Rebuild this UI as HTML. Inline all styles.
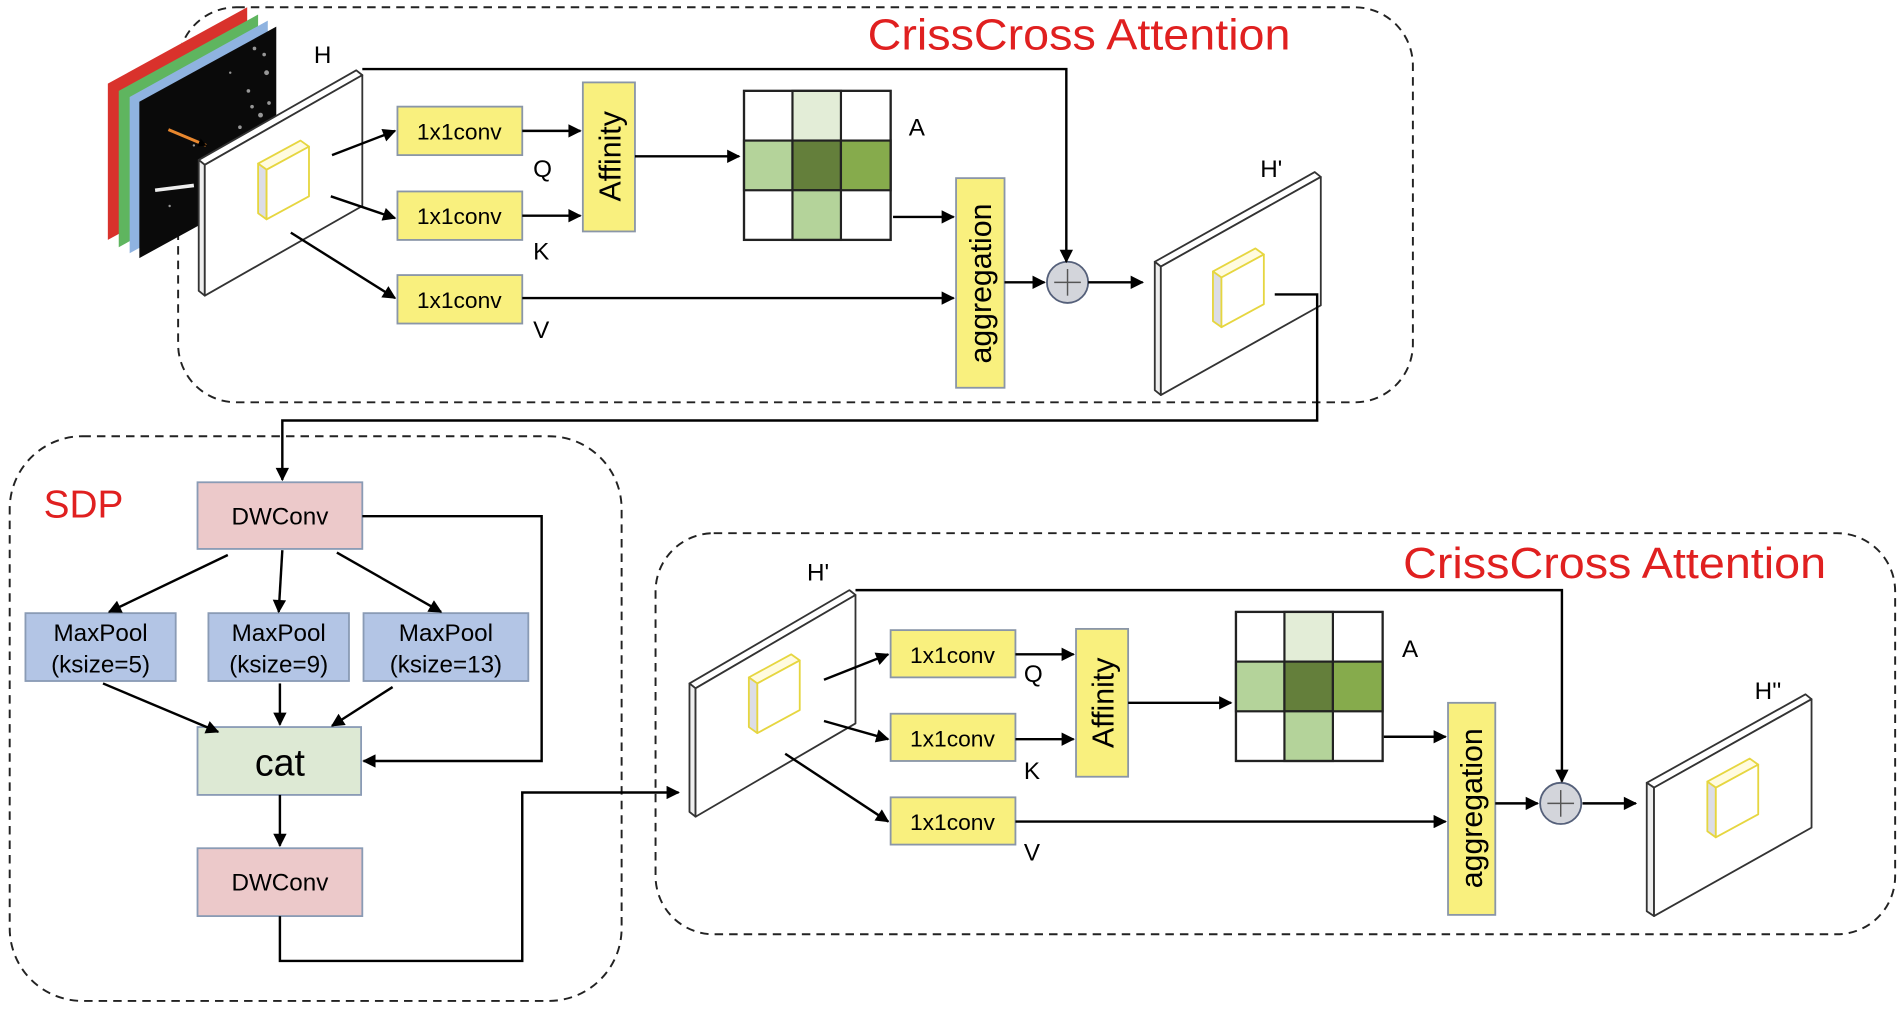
<!DOCTYPE html>
<html><head><meta charset="utf-8"><style>
html,body{margin:0;padding:0;background:#fff;}
svg{display:block;}
text{font-family:"Liberation Sans",Arial,sans-serif;}
</style></head><body>
<svg width="1900" height="1010" viewBox="0 0 1568 833.5" preserveAspectRatio="none" xmlns="http://www.w3.org/2000/svg">
<defs>
<marker id="ar" viewBox="0 0 10 10" refX="9" refY="5" markerWidth="7" markerHeight="7" markerUnits="userSpaceOnUse" orient="auto"><path d="M0,0 L10,5 L0,10 z" fill="#000"/></marker>
<marker id="ar2" viewBox="0 0 10 10" refX="9" refY="5" markerWidth="13" markerHeight="11" markerUnits="userSpaceOnUse" orient="auto"><path d="M0,0 L10,5 L0,10 z" fill="#000"/></marker>
</defs>
<g fill="none" stroke="#222" stroke-width="1.6" stroke-dasharray="7,5">
<rect x="147" y="6" width="1019" height="326" rx="48"/>
<rect x="8" y="360" width="505" height="466" rx="60"/>
<rect x="541" y="440" width="1023" height="331" rx="48"/>
</g>
<text x="716" y="41" font-size="36" fill="#e02020" textLength="349" lengthAdjust="spacingAndGlyphs">CrissCross Attention</text>
<text x="1158" y="477" font-size="36" fill="#e02020" textLength="349" lengthAdjust="spacingAndGlyphs">CrissCross Attention</text>
<text x="36" y="427" font-size="32" fill="#e02020">SDP</text>

<!-- image stack -->
<polygon points="89,69 204,6 204,135 89,198" fill="#d9322c"/>
<polygon points="98,75 213,12 213,141 98,204" fill="#5fb55f"/>
<polygon points="107,80 221,17 221,146 107,209" fill="#8fb3e0"/>
<polygon points="115,84 228,22 228,151 115,213" fill="#0a0a0a"/>
<g fill="#bbb" opacity="0.8">
<circle cx="210" cy="40" r="1.5"/><circle cx="220" cy="60" r="2"/><circle cx="205" cy="75" r="1.5"/><circle cx="215" cy="95" r="2"/><circle cx="198" cy="105" r="1.5"/><circle cx="222" cy="85" r="1.5"/><circle cx="190" cy="60" r="1"/><circle cx="160" cy="120" r="1"/><circle cx="140" cy="170" r="1"/>
<circle cx="218" cy="45" r="1.5"/><circle cx="208" cy="88" r="1.5"/><circle cx="224" cy="110" r="1.5"/><circle cx="212" cy="120" r="1.5"/>
</g>
<line x1="128" y1="157" x2="160" y2="153" stroke="#eee" stroke-width="3"/>
<line x1="139" y1="107" x2="170" y2="120" stroke="#e8872e" stroke-width="2.5" marker-end="url(#ar)"/>

<!-- plates -->
<g stroke="#333" stroke-width="1.5" stroke-linejoin="round">
<polygon points="164,132 294,58 299,62 169,136" fill="#fff"/>
<polygon points="164,132 169,136 169,244 164,240" fill="#eee"/>
<polygon points="169,136 299,62 299,170 169,244" fill="#fff"/>

<polygon points="953,216 1085,142 1090,146 958,220" fill="#fff"/>
<polygon points="953,216 958,220 958,326 953,322" fill="#eee"/>
<polygon points="958,220 1090,146 1090,252 958,326" fill="#fff"/>

<polygon points="569,564 701,487 706,491 574,568" fill="#fff"/>
<polygon points="569,564 574,568 574,674 569,670" fill="#eee"/>
<polygon points="574,568 706,491 706,597 574,674" fill="#fff"/>

<polygon points="1359,646 1490,573 1495,577 1365,650" fill="#fff"/>
<polygon points="1359,646 1365,650 1365,756 1359,752" fill="#eee"/>
<polygon points="1365,650 1495,577 1495,683 1365,756" fill="#fff"/>
</g>
<!-- cubes -->
<g stroke="#e6d640" stroke-width="1.5" stroke-linejoin="round">
<g>
<polygon points="213,135 248,116 255,121 220,140" fill="#fffbe0"/>
<polygon points="213,135 220,140 220,181 213,176" fill="#dcdde6"/>
<polygon points="220,140 255,121 255,162 220,181" fill="#fff"/>
</g>
<g transform="translate(788,89)">
<polygon points="213,135 248,116 255,121 220,140" fill="#fffbe0"/>
<polygon points="213,135 220,140 220,181 213,176" fill="#dcdde6"/>
<polygon points="220,140 255,121 255,162 220,181" fill="#fff"/>
</g>
<g transform="translate(405,424)">
<polygon points="213,135 248,116 255,121 220,140" fill="#fffbe0"/>
<polygon points="213,135 220,140 220,181 213,176" fill="#dcdde6"/>
<polygon points="220,140 255,121 255,162 220,181" fill="#fff"/>
</g>
<g transform="translate(1196,510)">
<polygon points="213,135 248,116 255,121 220,140" fill="#fffbe0"/>
<polygon points="213,135 220,140 220,181 213,176" fill="#dcdde6"/>
<polygon points="220,140 255,121 255,162 220,181" fill="#fff"/>
</g>
</g>

<g font-size="20" fill="#000">
<text x="259" y="52">H</text>
<text x="1040" y="146">H'</text>
<text x="666" y="479">H'</text>
<text x="1448" y="577">H''</text>
<text x="440" y="146">Q</text><text x="440" y="214">K</text><text x="440" y="279">V</text>
<text x="750" y="112">A</text>
<text x="845" y="563">Q</text><text x="845" y="643">K</text><text x="845" y="710">V</text>
<text x="1157" y="542">A</text>
</g>

<!-- yellow boxes -->
<g fill="#f9f07e" stroke="#8a96a8" stroke-width="1.5">
<rect x="328" y="88" width="103" height="40"/>
<rect x="328" y="158" width="103" height="40"/>
<rect x="328" y="227" width="103" height="40"/>
<rect x="481" y="68" width="43" height="123"/>
<rect x="789" y="147" width="40" height="173"/>
<rect x="735" y="520" width="103" height="39"/>
<rect x="735" y="589" width="103" height="39"/>
<rect x="735" y="658" width="103" height="39"/>
<rect x="888" y="519" width="43" height="122"/>
<rect x="1195" y="580" width="39" height="175"/>
</g>
<g font-size="18" fill="#000" text-anchor="middle">
<text x="379" y="115" textLength="70" lengthAdjust="spacingAndGlyphs">1x1conv</text><text x="379" y="185" textLength="70" lengthAdjust="spacingAndGlyphs">1x1conv</text><text x="379" y="254" textLength="70" lengthAdjust="spacingAndGlyphs">1x1conv</text>
<text x="786" y="547" textLength="70" lengthAdjust="spacingAndGlyphs">1x1conv</text><text x="786" y="616" textLength="70" lengthAdjust="spacingAndGlyphs">1x1conv</text><text x="786" y="685" textLength="70" lengthAdjust="spacingAndGlyphs">1x1conv</text>
</g>
<g font-size="25" fill="#000" text-anchor="middle">
<text transform="translate(512,129) rotate(-90)">Affinity</text>
<text transform="translate(919,580) rotate(-90)">Affinity</text>
<text transform="translate(818,234) rotate(-90)">aggregation</text>
<text transform="translate(1223,667) rotate(-90)">aggregation</text>
</g>

<!-- grids -->
<g stroke="#222" stroke-width="1.8">
<g>
<rect x="614" y="75" width="121" height="123" fill="#fff"/>
<rect x="654" y="75" width="40" height="41" fill="#e3edd7"/>
<rect x="614" y="116" width="40" height="41" fill="#b4d39a"/>
<rect x="654" y="116" width="40" height="41" fill="#647f3b"/>
<rect x="694" y="116" width="41" height="41" fill="#86ab4c"/>
<rect x="654" y="157" width="40" height="41" fill="#b4d39a"/>
<rect x="614" y="75" width="121" height="123" fill="none"/>
</g>
<g transform="translate(406,430)">
<rect x="614" y="75" width="121" height="123" fill="#fff"/>
<rect x="654" y="75" width="40" height="41" fill="#e3edd7"/>
<rect x="614" y="116" width="40" height="41" fill="#b4d39a"/>
<rect x="654" y="116" width="40" height="41" fill="#647f3b"/>
<rect x="694" y="116" width="41" height="41" fill="#86ab4c"/>
<rect x="654" y="157" width="40" height="41" fill="#b4d39a"/>
<rect x="614" y="75" width="121" height="123" fill="none"/>
</g>
</g>

<!-- plus circles -->
<g stroke="#55607a" stroke-width="1.5" fill="#d3d5db">
<circle cx="881" cy="233" r="17"/>
<circle cx="1288" cy="663" r="17"/>
</g>
<g stroke="#555" stroke-width="1.2">
<line x1="870" y1="233" x2="892" y2="233"/><line x1="881" y1="222" x2="881" y2="244"/>
<line x1="1277" y1="663" x2="1299" y2="663"/><line x1="1288" y1="652" x2="1288" y2="674"/>
</g>

<!-- SDP boxes -->
<g stroke="#8a9bb5" stroke-width="1.5">
<rect x="163" y="398" width="136" height="55" fill="#ecc9ca"/>
<rect x="21" y="506" width="124" height="56" fill="#b3c5e5"/>
<rect x="172" y="506" width="116" height="56" fill="#b3c5e5"/>
<rect x="300" y="506" width="136" height="56" fill="#b3c5e5"/>
<rect x="163" y="600" width="135" height="56" fill="#dde9d4"/>
<rect x="163" y="700" width="136" height="56" fill="#ecc9ca"/>
</g>
<g font-size="20" fill="#000" text-anchor="middle">
<text x="231" y="433">DWConv</text>
<text x="231" y="735">DWConv</text>
<text x="83" y="529">MaxPool</text><text x="83" y="555">(ksize=5)</text>
<text x="230" y="529">MaxPool</text><text x="230" y="555">(ksize=9)</text>
<text x="368" y="529">MaxPool</text><text x="368" y="555">(ksize=13)</text>
<text x="231" y="640" font-size="31">cat</text>
</g>

<!-- connectors -->
<g stroke="#000" stroke-width="2" fill="none" marker-end="url(#ar2)">
<polyline points="299,57 880,57 880,216"/>
<line x1="274" y1="128" x2="326" y2="108"/>
<line x1="273" y1="162" x2="326" y2="180"/>
<line x1="240" y1="192" x2="326" y2="246"/>
<line x1="431" y1="108" x2="479" y2="108"/>
<line x1="431" y1="178" x2="479" y2="178"/>
<line x1="524" y1="129" x2="610" y2="129"/>
<line x1="737" y1="179" x2="787" y2="179"/>
<line x1="431" y1="246" x2="787" y2="246"/>
<line x1="829" y1="233" x2="862" y2="233"/>
<line x1="898" y1="233" x2="943" y2="233"/>
<polyline points="1052,243 1087,243 1087,347 233,347 233,396"/>
<line x1="188" y1="458" x2="90" y2="505"/>
<line x1="233" y1="454" x2="230" y2="505"/>
<line x1="278" y1="456" x2="364" y2="505"/>
<line x1="85" y1="564" x2="180" y2="604"/>
<line x1="231" y1="564" x2="231" y2="598"/>
<line x1="324" y1="567" x2="274" y2="599"/>
<polyline points="299,426 447,426 447,628 300,628"/>
<line x1="231" y1="656" x2="231" y2="698"/>
<polyline points="231,756 231,793 431,793 431,654 560,654"/>
<polyline points="706,487 1289,487 1289,645"/>
<line x1="680" y1="561" x2="733" y2="540"/>
<line x1="680" y1="595" x2="733" y2="610"/>
<line x1="648" y1="622" x2="733" y2="678"/>
<line x1="838" y1="540" x2="886" y2="540"/>
<line x1="838" y1="610" x2="886" y2="610"/>
<line x1="931" y1="580" x2="1016" y2="580"/>
<line x1="1142" y1="608" x2="1193" y2="608"/>
<line x1="838" y1="678" x2="1193" y2="678"/>
<line x1="1234" y1="663" x2="1269" y2="663"/>
<line x1="1306" y1="663" x2="1350" y2="663"/>
</g>
</svg>
</body></html>
